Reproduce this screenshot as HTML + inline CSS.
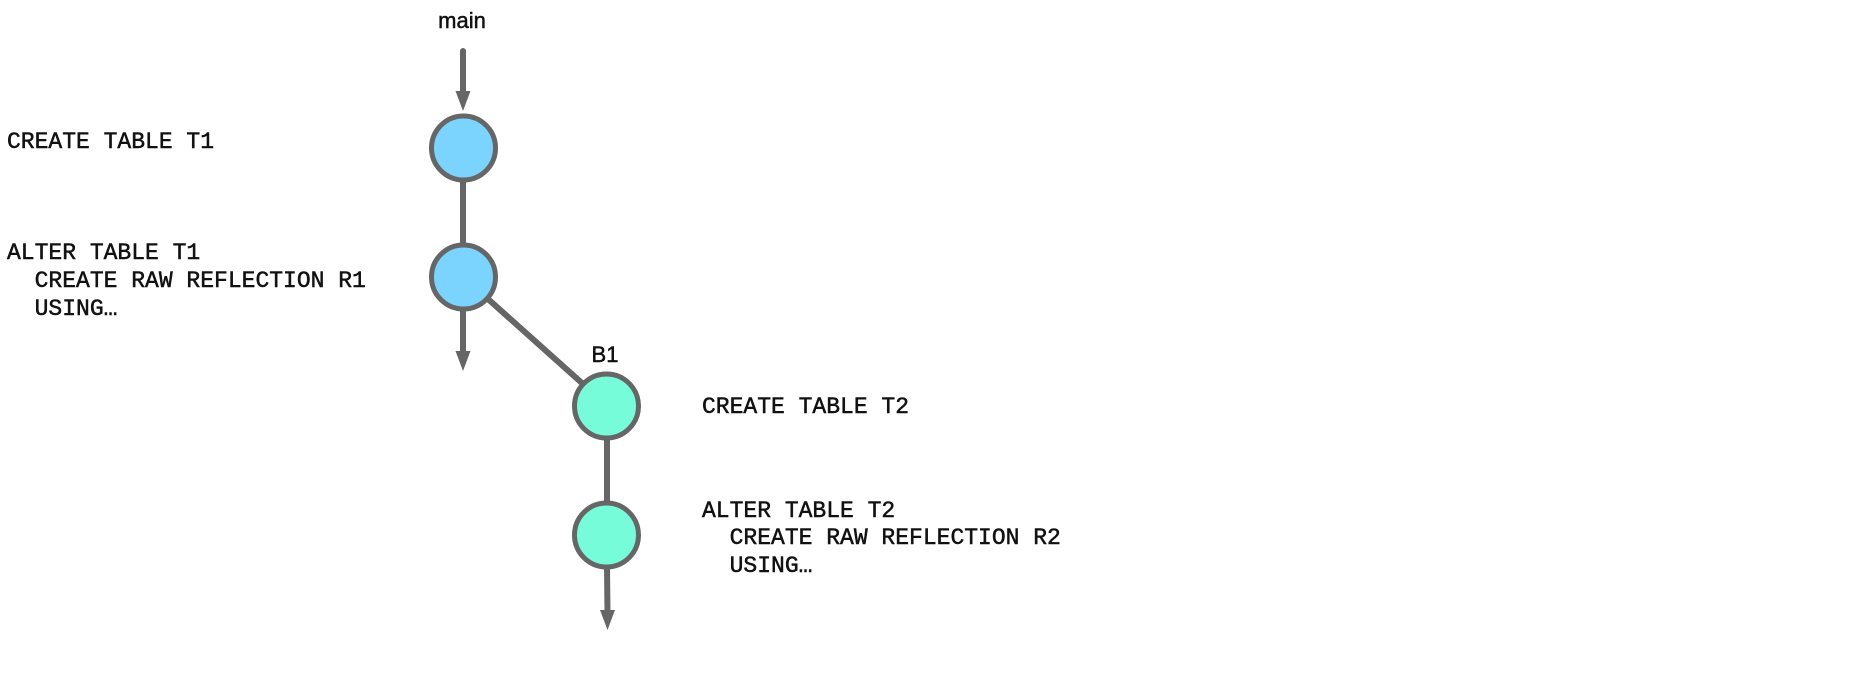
<!DOCTYPE html>
<html><head><meta charset="utf-8"><style>
html,body{margin:0;padding:0;background:#fff;}
svg{display:block}
.m{font-family:"Liberation Mono",monospace;font-size:23px;fill:#111;stroke:#111;stroke-width:0.5px;}
.s{font-family:"Liberation Sans",sans-serif;font-size:22px;fill:#111;stroke:#111;stroke-width:0.5px;}
</style></head><body>
<svg width="1854" height="696" viewBox="0 0 1854 696" xmlns="http://www.w3.org/2000/svg">
<g stroke="#666" stroke-width="6" stroke-linecap="round" fill="none">
<line x1="463" y1="51" x2="463" y2="95"/>
<line x1="463" y1="180" x2="463" y2="245"/>
<line x1="463" y1="309" x2="463" y2="355"/>
<line x1="488" y1="299" x2="583" y2="384"/>
<line x1="607" y1="438" x2="607" y2="503"/>
<line x1="607" y1="567" x2="607.5" y2="614"/>
</g>
<g fill="#666">
<polygon points="455.5,91 470.5,91 463,111"/>
<polygon points="455.5,351 470.5,351 463,371"/>
<polygon points="600,610 615,610 607.5,630"/>
</g>
<g stroke="#666" stroke-width="5">
<circle cx="463.5" cy="148" r="32" fill="#7ad4fe"/>
<circle cx="463.5" cy="277" r="32" fill="#7ad4fe"/>
<circle cx="606.5" cy="406" r="32" fill="#76fcd8"/>
<circle cx="606.5" cy="535" r="32" fill="#76fcd8"/>
</g>
<text class="s" x="462" y="28" text-anchor="middle">main</text>
<text class="s" x="605" y="362" text-anchor="middle">B1</text>
<text class="m" x="7" y="148" xml:space="preserve">CREATE TABLE T1</text>
<text class="m" x="7" y="259" xml:space="preserve">ALTER TABLE T1</text>
<text class="m" x="7" y="287" xml:space="preserve">  CREATE RAW REFLECTION R1</text>
<text class="m" x="7" y="315" xml:space="preserve">  USING…</text>
<text class="m" x="702" y="413" xml:space="preserve">CREATE TABLE T2</text>
<text class="m" x="702" y="517" xml:space="preserve">ALTER TABLE T2</text>
<text class="m" x="702" y="544" xml:space="preserve">  CREATE RAW REFLECTION R2</text>
<text class="m" x="702" y="572" xml:space="preserve">  USING…</text>
</svg>
</body></html>
